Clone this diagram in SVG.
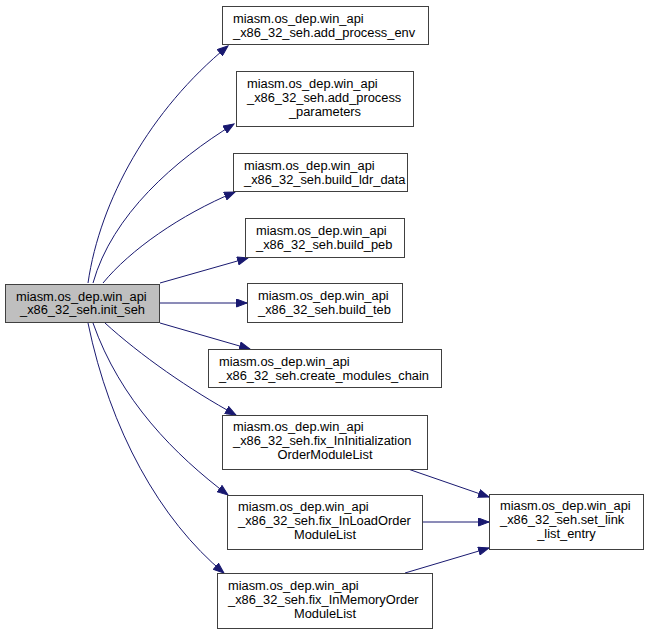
<svg xmlns="http://www.w3.org/2000/svg" width="649" height="635" viewBox="0 0 649 635">
<style>
.n rect{fill:#ffffff;stroke:#404040;stroke-width:1}
.n.root rect{fill:#bfbfbf}
.n text{font-family:"Liberation Sans",Arial,sans-serif;font-size:12.85px;fill:#000000}
.m{text-anchor:middle}
.e path{fill:none;stroke:#191970;stroke-width:1;marker-end:url(#ah)}
</style>
<defs>
<marker id="ah" markerUnits="userSpaceOnUse" markerWidth="12" markerHeight="9" refX="11" refY="4.5" orient="auto">
<path d="M0.5,0.5 L11,4.5 L0.5,8.5 z" fill="#191970" stroke="#191970" stroke-width="1"/>
</marker>
</defs>
<rect width="649" height="635" fill="#ffffff"/>
<g id="edges" class="e">
<path d="M88,283 C100,200 150,110 228,46"/>
<path d="M93,283 C112,215 175,160 234,124"/>
<path d="M103,283 C130,250 180,215 235,192"/>
<path d="M160,283 L248,258"/>
<path d="M160,303 L247,303"/>
<path d="M160,323 L250,349"/>
<path d="M105,323 C140,355 190,390 236,415"/>
<path d="M93,323 C120,400 175,455 228,495"/>
<path d="M88,323 C110,430 160,520 224,573"/>
<path d="M408,469 L489,497"/>
<path d="M422,522 L489,522"/>
<path d="M405,573 L489,548"/>
</g>
<g id="init_seh" class="n root">
<rect x="5.5" y="284.5" width="154" height="38"/>
<text x="16" y="300.5">miasm.os_dep.win_api</text>
<text class="m" x="82.5" y="314">_x86_32_seh.init_seh</text>
</g>
<g id="add_process_env" class="n">
<rect x="222.5" y="6.5" width="206" height="38"/>
<text x="233" y="22.7">miasm.os_dep.win_api</text>
<text x="233" y="36.7">_x86_32_seh.add_process_env</text>
</g>
<g id="add_process_parameters" class="n">
<rect x="236.5" y="71.5" width="177" height="55"/>
<text x="247" y="87.5">miasm.os_dep.win_api</text>
<text x="247" y="101.5">_x86_32_seh.add_process</text>
<text class="m" x="325" y="115.5">_parameters</text>
</g>
<g id="build_ldr_data" class="n">
<rect x="233.5" y="153.5" width="174" height="38"/>
<text x="244" y="169.7">miasm.os_dep.win_api</text>
<text x="244" y="183.7">_x86_32_seh.build_ldr_data</text>
</g>
<g id="build_peb" class="n">
<rect x="245.5" y="218.5" width="159" height="39"/>
<text x="256" y="235">miasm.os_dep.win_api</text>
<text x="256" y="249">_x86_32_seh.build_peb</text>
</g>
<g id="build_teb" class="n">
<rect x="247.5" y="283.5" width="155" height="39"/>
<text x="258" y="300">miasm.os_dep.win_api</text>
<text x="258" y="314">_x86_32_seh.build_teb</text>
</g>
<g id="create_modules_chain" class="n">
<rect x="208.5" y="349.5" width="233" height="38"/>
<text x="219" y="366">miasm.os_dep.win_api</text>
<text x="219" y="380">_x86_32_seh.create_modules_chain</text>
</g>
<g id="fix_InInitializationOrderModuleList" class="n">
<rect x="222.5" y="415.5" width="205" height="54"/>
<text x="233" y="431">miasm.os_dep.win_api</text>
<text x="233" y="445">_x86_32_seh.fix_InInitialization</text>
<text class="m" x="325" y="459">OrderModuleList</text>
</g>
<g id="fix_InLoadOrderModuleList" class="n">
<rect x="227.5" y="495.5" width="195" height="54"/>
<text x="238" y="511">miasm.os_dep.win_api</text>
<text x="238" y="525">_x86_32_seh.fix_InLoadOrder</text>
<text class="m" x="325" y="539">ModuleList</text>
</g>
<g id="fix_InMemoryOrderModuleList" class="n">
<rect x="217.5" y="573.5" width="215" height="55"/>
<text x="228" y="589.5">miasm.os_dep.win_api</text>
<text x="228" y="603.5">_x86_32_seh.fix_InMemoryOrder</text>
<text class="m" x="325" y="617.5">ModuleList</text>
</g>
<g id="set_link_list_entry" class="n">
<rect x="489.5" y="494.5" width="154" height="55"/>
<text x="500" y="510">miasm.os_dep.win_api</text>
<text x="500" y="524">_x86_32_seh.set_link</text>
<text class="m" x="566.5" y="538">_list_entry</text>
</g>
</svg>
